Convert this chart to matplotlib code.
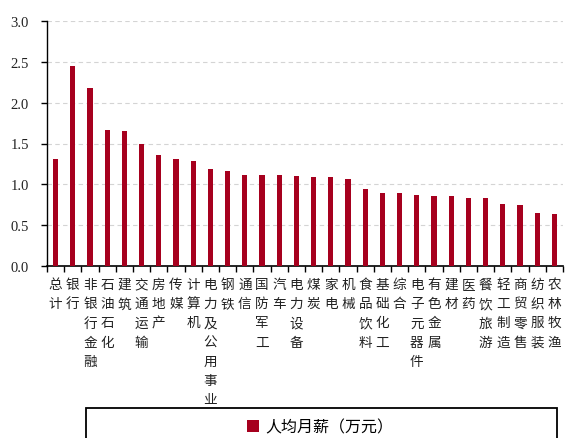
import matplotlib
matplotlib.use("Agg")
import matplotlib.pyplot as plt
from matplotlib.patches import Rectangle
import numpy as np

plt.rcParams['font.family'] = ['Noto Sans CJK SC', 'DejaVu Sans']

industries = ["总计", "银行", "非银行金融", "石油石化", "建筑", "交通运输", "房地产", "传媒",
              "计算机", "电力及公用事业", "钢铁", "通信", "国防军工", "汽车", "电力设备",
              "煤炭", "家电", "机械", "食品饮料", "基础化工", "综合", "电子元器件",
              "有色金属", "建材", "医药", "餐饮旅游", "轻工制造", "商贸零售", "纺织服装", "农林牧渔"]
monthly_pay = [1.31, 2.45, 2.18, 1.67, 1.65, 1.49, 1.36, 1.31, 1.28, 1.19, 1.16, 1.12,
               1.12, 1.12, 1.10, 1.09, 1.09, 1.06, 0.94, 0.90, 0.90, 0.87, 0.86, 0.86,
               0.83, 0.83, 0.76, 0.75, 0.65, 0.64]
yticks = [0.0, 0.5, 1.0, 1.5, 2.0, 2.5, 3.0]
series_name = "人均月薪（万元）"

bar_color = "#A6001E"

fig = plt.figure(figsize=(5.65, 4.39), dpi=100)
ax = fig.add_axes([47 / 565, 1 - 267 / 439, (563 - 47) / 565, (267 - 22) / 439])

x = np.arange(len(industries))
ax.bar(x, monthly_pay, width=0.3, color=bar_color, label=series_name, zorder=3)

ax.set_xlim(-0.5, len(industries) - 0.5)
ax.set_ylim(0, 3.0)
ax.set_yticks(yticks)
ax.set_yticklabels([f"{v:.1f}" for v in yticks], family="Liberation Serif",
                   fontsize=10.5, color="#222222")
ax.yaxis.grid(True, linestyle=(0, (4, 3)), color="#d4d4d4", linewidth=0.8, zorder=0)

# category labels stacked vertically, tick marks at category boundaries
ax.set_xticks(x)
ax.set_xticklabels(["\n".join(n) for n in industries], fontsize=9.8,
                   color="#222222", va="top", linespacing=1.47)
ax.tick_params(axis="x", which="major", length=0, pad=8)
ax.set_xticks(np.arange(-0.5, len(industries), 1.0), minor=True)
ax.tick_params(axis="x", which="minor", length=4, width=1.0, color="black", direction="out")
ax.tick_params(axis="y", length=4, width=1.0, color="black", direction="out", pad=9)

for side in ("top", "right"):
    ax.spines[side].set_visible(False)
ax.spines["left"].set_linewidth(1.0)
ax.spines["bottom"].set_linewidth(1.2)

# legend frame spanning the bottom of the figure
fig.patches.append(Rectangle((86 / 565, -0.05), (557 - 86) / 565, 0.05 + (439 - 409) / 439,
                             transform=fig.transFigure, fill=False, edgecolor="black",
                             linewidth=1.3, clip_on=False))
handles, labels = ax.get_legend_handles_labels()
fig.legend(handles, labels, loc="center", bbox_to_anchor=(320 / 565, 1 - 428 / 439),
           frameon=False, fontsize=11.5, handlelength=0.75, handleheight=0.75,
           handletextpad=0.4)

fig.savefig("out.png", dpi=100)
